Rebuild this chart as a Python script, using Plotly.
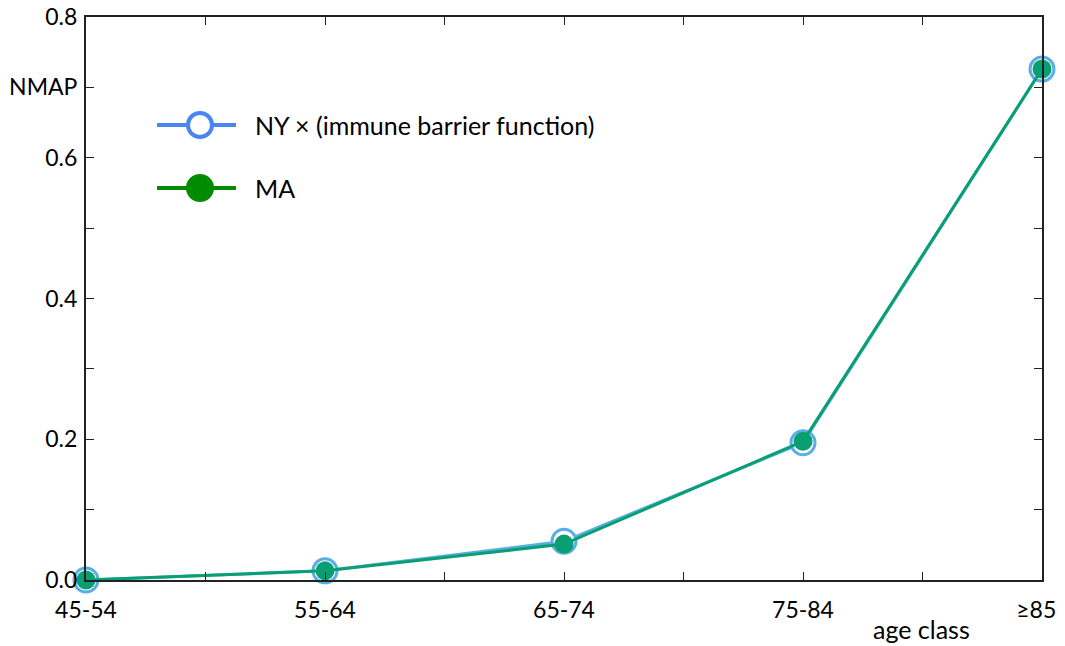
import plotly.graph_objects as go

categories = ["45-54", "55-64", "65-74", "75-84", "≥85"]
ny_values = [0.0, 0.013, 0.055, 0.195, 0.726]
ma_values = [0.0, 0.013, 0.051, 0.197, 0.726]
y_tick_vals = [0.0, 0.2, 0.4, 0.6, 0.7, 0.8]
y_tick_text = ["0.0", "0.2", "0.4", "0.6", "NMAP", "0.8"]

xpos = list(range(len(categories)))
# last label sits slightly left of its tick in the reference
x_tick_text = categories[:-1] + [categories[-1] + "\u2002"]
FONT = "Lato"

fig = go.Figure()
fig.add_trace(go.Scatter(
    x=xpos, y=ny_values, mode="lines+markers", name="NY × (immune barrier function)",
    line=dict(color="#5aaee6", width=3),
    marker=dict(size=24, color="white", line=dict(color="#5aaee6", width=3)),
    showlegend=False, cliponaxis=False))
fig.add_trace(go.Scatter(
    x=xpos, y=ma_values, mode="lines+markers", name="MA",
    line=dict(color="#0a9e73", width=3),
    marker=dict(size=19, color="#0a9e73"),
    showlegend=False, cliponaxis=False))

# page body has an 8px margin; figure coordinates = screen - 8
OFF = 8
W, H = 1065, 638
L, R, T, B = 78, 31, 9, 66
pw, ph = W - L - R, H - T - B

def px(sx):
    return (sx - OFF - L) / pw

def py(sy):
    return (H - B - (sy - OFF)) / ph

shapes = []
annotations = []
legend_items = [("NY × (immune barrier function)", "#4a86f0", "white", 125),
                ("MA", "#008c00", "#008c00", 188)]
for text, lc, fc, yy in legend_items:
    shapes.append(dict(type="line", xref="paper", yref="paper",
                       x0=px(157), x1=px(236), y0=py(yy), y1=py(yy),
                       line=dict(color=lc, width=4)))
    shapes.append(dict(type="circle", xref="paper", yref="paper",
                       x0=px(188), x1=px(212), y0=py(yy - 12), y1=py(yy + 12),
                       fillcolor=fc, line=dict(color=lc, width=4)))
    annotations.append(dict(text=text, xref="paper", yref="paper", x=px(253), y=py(yy),
                            xanchor="left", yanchor="middle", showarrow=False,
                            font=dict(family=FONT, size=25, color="black")))

annotations.append(dict(text="age class", xref="paper", yref="paper", x=px(921), y=py(629),
                        xanchor="center", yanchor="middle", showarrow=False,
                        font=dict(family=FONT, size=25, color="black")))

fig.update_layout(
    width=W, height=H,
    margin=dict(l=L, r=R, t=T, b=B, autoexpand=False),
    plot_bgcolor="white", paper_bgcolor="white",
    font=dict(family=FONT, size=23, color="black"),
    shapes=shapes, annotations=annotations,
    xaxis=dict(range=[0, 4], tickvals=xpos, ticktext=x_tick_text, automargin=False,
               ticklabeloverflow="allow",
               showgrid=False, zeroline=False, showline=True, linecolor="#222", linewidth=2,
               mirror="ticks", ticks="inside", ticklen=8, tickcolor="#222", tickwidth=1,
               ticklabelstandoff=8,
               minor=dict(tickvals=[0.5, 1.5, 2.5, 3.5], ticks="inside", ticklen=8,
                          tickcolor="#222", tickwidth=1)),
    yaxis=dict(range=[0, 0.8], tickvals=y_tick_vals, ticktext=y_tick_text, automargin=False,
               ticklabeloverflow="allow",
               showgrid=False, zeroline=False, showline=True, linecolor="#222", linewidth=2,
               mirror="ticks", ticks="inside", ticklen=8, tickcolor="#222", tickwidth=1,
               ticklabelstandoff=2,
               minor=dict(tickvals=[0.1, 0.3, 0.5], ticks="inside", ticklen=8,
                          tickcolor="#222", tickwidth=1)),
)

fig.write_html("out.html")
